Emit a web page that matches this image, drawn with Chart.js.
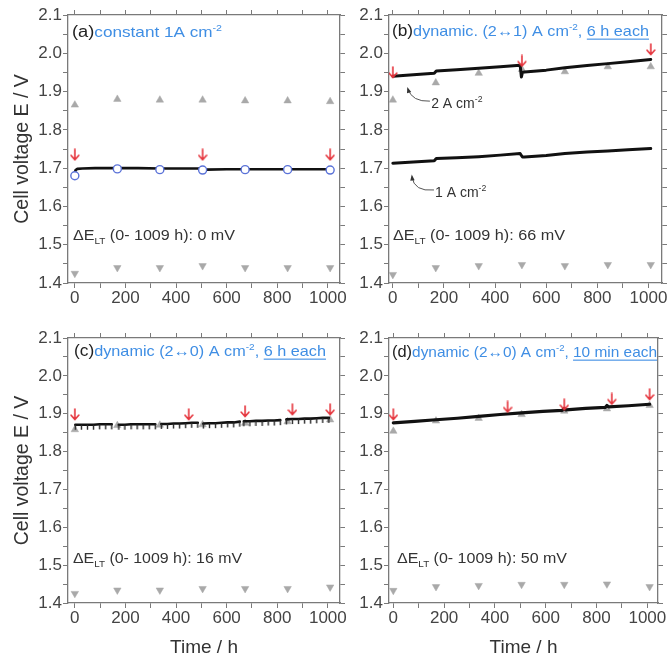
<!DOCTYPE html>
<html>
<head>
<meta charset="utf-8">
<script src="https://cdn.jsdelivr.net/npm/chart.js@4.4.1/dist/chart.umd.min.js"></script>
<style>
  body { margin: 0; background: #fff; }
  #wrap { position: relative; width: 669px; height: 661px; overflow: hidden; background: #fff; }
  #wrap canvas { position: absolute; }
</style>
</head>
<body>
<div id="wrap">
  <canvas id="chartA" width="360" height="320" style="left:0;top:0"></canvas>
  <canvas id="chartB" width="334" height="320" style="left:335px;top:0"></canvas>
  <canvas id="chartC" width="360" height="341" style="left:0;top:320px"></canvas>
  <canvas id="chartD" width="334" height="341" style="left:335px;top:320px"></canvas>
</div>
<script>
// ------------------------
// Data
// ------------------------

const xTicks = [0, 100, 200, 300, 400, 500, 600, 700, 800, 900, 1000];
const xLabels = [0, 200, 400, 600, 800, 1000];
const yTicks = [1.4, 1.45, 1.5, 1.55, 1.6, 1.65, 1.7, 1.75, 1.8, 1.85, 1.9, 1.95, 2.0, 2.05, 2.1];
const yLabels = [1.4, 1.5, 1.6, 1.7, 1.8, 1.9, 2.0, 2.1];

// characterisation points, every 168 h
const charTimes = [0, 168, 336, 505, 673, 841, 1009];

// (a) constant 1 A cm-2
const timeA = [0, 3, 10, 30, 80, 168, 250, 336, 420, 498, 503, 508, 520, 600, 673, 760, 841, 920, 1009];
const voltA = [1.688, 1.695, 1.698, 1.699, 1.700, 1.700, 1.700, 1.699, 1.699, 1.699, 1.688, 1.694, 1.696, 1.697, 1.697, 1.697, 1.697, 1.697, 1.697];
const circA = [1.680, 1.698, 1.696, 1.695, 1.696, 1.696, 1.695];
const upA = [1.865, 1.880, 1.878, 1.878, 1.876, 1.876, 1.874];
const downA = [1.425, 1.440, 1.440, 1.445, 1.440, 1.440, 1.440];
const arrowTimeA = [0, 505, 1009];
const arrowVoltA = [1.735, 1.735, 1.735];

// (b) dynamic 2 <-> 1 A cm-2, 6 h each
const timeB = [0, 80, 162, 170, 250, 336, 420, 498, 503, 507, 515, 600, 673, 760, 841, 920, 1009];
const volt2B = [1.940, 1.944, 1.948, 1.954, 1.957, 1.961, 1.965, 1.969, 1.938, 1.950, 1.951, 1.956, 1.962, 1.968, 1.973, 1.978, 1.984];
const volt1B = [1.713, 1.716, 1.719, 1.725, 1.727, 1.730, 1.734, 1.738, 1.733, 1.729, 1.729, 1.733, 1.738, 1.742, 1.745, 1.748, 1.751];
const upB = [1.878, 1.923, 1.948, 1.958, 1.952, 1.965, 1.965];
const downB = [1.422, 1.440, 1.445, 1.448, 1.445, 1.448, 1.448];
const arrowTimeB = [0, 505, 1009];
const arrowVoltB = [1.950, 1.980, 2.010];

// (c) dynamic 2 <-> 0 A cm-2, 6 h each (null = gap at characterisation)
const timeC = [2, 26, 50, 74, 98, 122, 146, 160,
  174, 198, 222, 246, 270, 294, 318, 330,
  342, 366, 390, 414, 438, 462, 486, 497,
  508, 532, 556, 580, 604, 628, 652, 660,
  668, 692, 716, 740, 764, 788, 812, 824,
  836, 860, 884, 908, 932, 956, 980, 1004];
const voltC = [1.871, 1.871, 1.871, 1.871, 1.872, 1.872, 1.872, null,
  1.871, 1.871, 1.872, 1.872, 1.872, 1.872, 1.872, null,
  1.873, 1.873, 1.874, 1.874, 1.875, 1.876, 1.876, null,
  1.874, 1.875, 1.875, 1.876, 1.877, 1.877, 1.879, null,
  1.880, 1.880, 1.881, 1.881, 1.882, 1.882, 1.883, null,
  1.885, 1.886, 1.886, 1.887, 1.887, 1.888, 1.889, 1.889];
const upC = [1.858, 1.869, 1.870, 1.871, 1.875, 1.879, 1.884];
const downC = [1.425, 1.434, 1.434, 1.438, 1.438, 1.438, 1.442];
const arrowTimeC = [0, 450, 673, 860, 1009];
const arrowVoltC = [1.898, 1.898, 1.906, 1.911, 1.911];

// (d) dynamic 2 <-> 0 A cm-2, 10 min each
const timeD = [0, 84, 168, 252, 336, 420, 505, 589, 665, 673, 680, 757, 835, 841, 848, 925, 1009];
const voltD = [1.876, 1.880, 1.884, 1.888, 1.893, 1.898, 1.902, 1.906, 1.909, 1.914, 1.910, 1.914, 1.917, 1.922, 1.918, 1.921, 1.925];
const upD = [1.854, 1.881, 1.888, 1.898, 1.907, 1.913, 1.922];
const downD = [1.433, 1.443, 1.446, 1.449, 1.449, 1.450, 1.443];
const arrowTimeD = [0, 450, 673, 860, 1009];
const arrowVoltD = [1.898, 1.918, 1.924, 1.939, 1.951];

// ------------------------
// Styling helpers
// ------------------------

const FONT = '"Liberation Sans", Arial, sans-serif';
const AXIS = '#7a7a7a';
const BLUE = '#3f8ee4';
const TRI = '#a9a9a9';

Chart.defaults.font.family = FONT;
Chart.defaults.animation = false;

function pts(xs, ys) {
  return xs.map((x, i) => ({ x: x, y: ys[i] }));
}

// little red "down" arrow used as point style
const redArrow = document.createElement('canvas');
redArrow.width = 10;
redArrow.height = 13;
(function () {
  const c = redArrow.getContext('2d');
  c.strokeStyle = '#e5333b';
  c.lineWidth = 1.6;
  c.lineCap = 'round';
  c.beginPath();
  c.moveTo(5, 1); c.lineTo(5, 11.5);
  c.moveTo(1.2, 7.2); c.lineTo(5, 11.5); c.lineTo(8.8, 7.2);
  c.stroke();
})();

// hanging tick for the hatched 2<->0 trace
const combTick = document.createElement('canvas');
combTick.width = 3;
combTick.height = 12;
(function () {
  const c = combTick.getContext('2d');
  c.fillStyle = '#2a2a2a';
  c.fillRect(0.8, 6, 1.4, 5);
})();

function triangles(xs, ys, down) {
  return {
    data: pts(xs, ys),
    showLine: false,
    pointStyle: 'triangle',
    rotation: down ? 180 : 0,
    pointRadius: 4.3,
    backgroundColor: TRI,
    borderColor: TRI,
    borderWidth: 0.5
  };
}

function arrows(xs, ys) {
  return {
    data: pts(xs, ys),
    showLine: false,
    pointStyle: redArrow,
    pointRadius: 5
  };
}

function trace(xs, ys, width) {
  return {
    data: pts(xs, ys),
    borderColor: '#111',
    borderWidth: width,
    borderJoinStyle: 'round',
    borderCapStyle: 'round',
    pointRadius: 0
  };
}

function drawRuns(ctx, runs, x, y, size, width) {
  const parts = runs.map(r => {
    const fs = (r.sub || r.sup) ? size * 0.62 : (r.size || size);
    ctx.font = fs + 'px ' + FONT;
    return Object.assign({}, r, { fs: fs, w: ctx.measureText(r.t).width });
  });
  const natural = parts.reduce((s, p) => s + p.w, 0);
  const sx = width ? width / natural : 1;
  ctx.save();
  ctx.translate(x, y);
  ctx.scale(sx, 1);
  ctx.textAlign = 'left';
  ctx.textBaseline = 'alphabetic';
  let cx = 0;
  parts.forEach(p => {
    ctx.font = p.fs + 'px ' + FONT;
    ctx.fillStyle = p.color || '#333';
    const dy = p.sup ? -size * 0.42 : (p.sub ? size * 0.25 : 0);
    ctx.fillText(p.t, cx, dy);
    if (p.underline) ctx.fillRect(cx, 2.6, p.w, 1.1);
    cx += p.w;
  });
  ctx.restore();
}

function drawCurvedArrow(chart, a) {
  const ctx = chart.ctx;
  const sx = chart.scales.x, sy = chart.scales.y;
  const p = a.path.map(q => [sx.getPixelForValue(q[0]), sy.getPixelForValue(q[1])]);
  ctx.save();
  ctx.strokeStyle = '#555';
  ctx.fillStyle = '#333';
  ctx.lineWidth = 1;
  ctx.beginPath();
  ctx.moveTo(p[0][0], p[0][1]);
  ctx.quadraticCurveTo(p[1][0], p[1][1], p[2][0], p[2][1]);
  ctx.stroke();
  const ang = Math.atan2(p[2][1] - p[1][1], p[2][0] - p[1][0]);
  ctx.translate(p[2][0], p[2][1]);
  ctx.rotate(ang);
  ctx.beginPath();
  ctx.moveTo(2, 0);
  ctx.lineTo(-4, -2.2);
  ctx.lineTo(-4, 2.2);
  ctx.closePath();
  ctx.fill();
  ctx.restore();
}

// ------------------------
// Panel builder
// ------------------------

function makePanel(id, cfg) {
  const canvas = document.getElementById(id);
  const W = canvas.width, H = canvas.height;
  const box = cfg.box;

  const textPlugin = {
    id: 'panelText',
    afterDraw(chart) {
      const ctx = chart.ctx;
      const ca = chart.chartArea;
      drawRuns(ctx, cfg.title, ca.left + cfg.titlePos[0], ca.top + cfg.titlePos[1], 15, cfg.titleWidth);
      drawRuns(ctx, cfg.delta, ca.left + cfg.deltaPos[0], ca.top + cfg.deltaPos[1], 15.5, cfg.deltaWidth);
      (cfg.notes || []).forEach(n => {
        const px = chart.scales.x.getPixelForValue(n.at[0]);
        const py = chart.scales.y.getPixelForValue(n.at[1]);
        drawRuns(ctx, n.runs, px, py, 14);
        drawCurvedArrow(chart, n);
      });
    }
  };

  const tickGrid = { drawOnChartArea: false, drawTicks: true, tickLength: 5, color: AXIS, lineWidth: 1 };
  const border = { display: true, color: AXIS, width: 1.3 };
  const setX = s => { s.ticks = xTicks.map(v => ({ value: v })); };
  const setY = s => { s.ticks = yTicks.map(v => ({ value: v })); };

  return new Chart(canvas, {
    type: 'line',
    data: { datasets: cfg.datasets },
    options: {
      responsive: false,
      animation: false,
      layout: { padding: 0, autoPadding: false },
      plugins: { legend: { display: false }, tooltip: { enabled: false } },
      elements: { line: { tension: 0 } },
      scales: {
        x: {
          type: 'linear', position: 'bottom', min: cfg.xRange[0], max: cfg.xRange[1],
          afterBuildTicks: setX,
          afterFit: s => { s.height = H - box.bottom; },
          grid: tickGrid, border: border,
          ticks: {
            autoSkip: false, maxRotation: 0, padding: 0, color: '#444', font: { size: 17 },
            callback: v => xLabels.includes(v) ? String(v) : ''
          },
          title: {
            display: cfg.xTitle, text: 'Time / h', color: '#333',
            font: { size: 19 }, padding: { top: 2, bottom: 2 }
          }
        },
        x2: {
          type: 'linear', position: 'top', min: cfg.xRange[0], max: cfg.xRange[1],
          afterBuildTicks: setX,
          afterFit: s => { s.height = box.top; },
          grid: tickGrid, border: border,
          ticks: { display: false }
        },
        y: {
          type: 'linear', position: 'left', min: 1.4, max: 2.1,
          afterBuildTicks: setY,
          afterFit: s => { s.width = box.left; },
          grid: tickGrid, border: border,
          ticks: {
            autoSkip: false, padding: 1, color: '#444', font: { size: 17 },
            callback: v => yLabels.some(l => Math.abs(l - v) < 1e-6) ? v.toFixed(1) : ''
          },
          title: {
            display: cfg.yTitle, text: 'Cell voltage E / V', color: '#333',
            font: { size: 19.5 }, padding: { top: 11, bottom: 0 }
          }
        },
        y2: {
          type: 'linear', position: 'right', min: 1.4, max: 2.1,
          afterBuildTicks: setY,
          afterFit: s => { s.width = W - box.right; },
          grid: tickGrid, border: border,
          ticks: { display: false }
        }
      }
    },
    plugins: [textPlugin]
  });
}

function deltaRuns(mv) {
  return [{ t: '\u0394E' }, { t: 'LT', sub: true }, { t: ' (0- 1009 h): ' + mv + ' mV' }];
}

// ------------------------
// Panels
// ------------------------

makePanel('chartA', {
  box: { left: 68, top: 15, right: 340, bottom: 283 },
  xRange: [-27, 1048], yTitle: true, xTitle: false,
  title: [{ t: '(a)', color: '#222', size: 16 }, { t: 'constant 1A cm', color: BLUE }, { t: '-2', sup: true, color: BLUE }],
  titlePos: [4, 22], titleWidth: 150,
  delta: deltaRuns(0), deltaPos: [5, 225], deltaWidth: 162,
  datasets: [
    {
      data: pts(charTimes, circA), showLine: false, pointStyle: 'circle', pointRadius: 4,
      backgroundColor: '#fff', borderColor: '#5a72d8', borderWidth: 1.4
    },
    trace(timeA, voltA, 2.6),
    arrows(arrowTimeA, arrowVoltA),
    triangles(charTimes, upA, false),
    triangles(charTimes, downA, true)
  ]
});

makePanel('chartB', {
  box: { left: 54, top: 15, right: 327, bottom: 283 },
  xRange: [-15, 1053], yTitle: false, xTitle: false,
  title: [
    { t: '(b)', color: '#222', size: 16 },
    { t: 'dynamic. (2\u21941) A cm', color: BLUE }, { t: '-2', sup: true, color: BLUE },
    { t: ', ', color: BLUE }, { t: '6 h each', color: BLUE, underline: true }
  ],
  titlePos: [3, 21], titleWidth: 257,
  delta: deltaRuns(66), deltaPos: [4, 225], deltaWidth: 172,
  notes: [
    { runs: [{ t: '2 A cm' }, { t: '-2', sup: true }], at: [150, 1.857], path: [[145, 1.875], [75, 1.873], [59, 1.907]] },
    { runs: [{ t: '1 A cm' }, { t: '-2', sup: true }], at: [165, 1.625], path: [[161, 1.643], [82, 1.638], [75, 1.678]] }
  ],
  datasets: [
    arrows(arrowTimeB, arrowVoltB),
    trace(timeB, volt2B, 3),
    trace(timeB, volt1B, 3),
    triangles(charTimes, upB, false),
    triangles(charTimes, downB, true)
  ]
});

makePanel('chartC', {
  box: { left: 68, top: 18, right: 340, bottom: 283 },
  xRange: [-27, 1048], yTitle: true, xTitle: true,
  title: [
    { t: '(c)', color: '#222', size: 16 },
    { t: 'dynamic (2\u21940) A cm', color: BLUE }, { t: '-2', sup: true, color: BLUE },
    { t: ', ', color: BLUE }, { t: '6 h each', color: BLUE, underline: true }
  ],
  titlePos: [6, 18], titleWidth: 252,
  delta: deltaRuns(16), deltaPos: [5, 225], deltaWidth: 169,
  datasets: [
    arrows(arrowTimeC, arrowVoltC),
    Object.assign(trace(timeC, voltC, 2.6), { spanGaps: false, pointStyle: combTick, pointRadius: 4 }),
    triangles(charTimes, upC, false),
    triangles(charTimes, downC, true)
  ]
});

makePanel('chartD', {
  box: { left: 54, top: 18, right: 323, bottom: 283 },
  xRange: [-17, 1042], yTitle: false, xTitle: true,
  title: [
    { t: '(d)', color: '#222', size: 16 },
    { t: 'dynamic (2\u21940) A cm', color: BLUE }, { t: '-2', sup: true, color: BLUE },
    { t: ', ', color: BLUE }, { t: '10 min each', color: BLUE, underline: true }
  ],
  titlePos: [3, 19], titleWidth: 265,
  delta: deltaRuns(50), deltaPos: [8, 225], deltaWidth: 170,
  datasets: [
    arrows(arrowTimeD, arrowVoltD),
    trace(timeD, voltD, 3.2),
    triangles(charTimes, upD, false),
    triangles(charTimes, downD, true)
  ]
});
</script>
</body>
</html>
